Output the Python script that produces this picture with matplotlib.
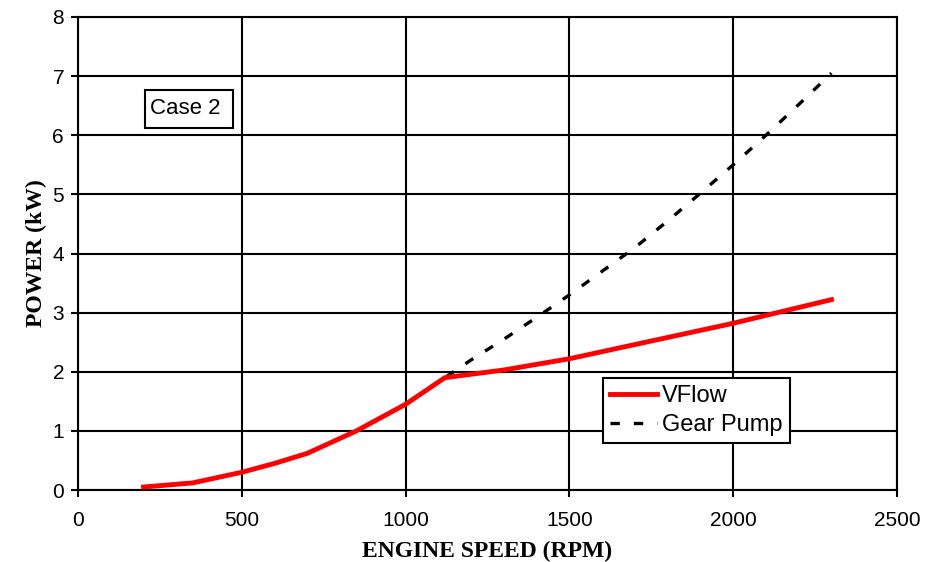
import matplotlib
matplotlib.use("Agg")
import matplotlib.pyplot as plt
from matplotlib.patches import Rectangle

vflow_rpm = [200, 350, 500, 600, 700, 850, 1000, 1120, 1300, 1500, 1750, 2000, 2300]
vflow_kw = [0.05, 0.12, 0.30, 0.45, 0.62, 1.00, 1.45, 1.90, 2.03, 2.22, 2.52, 2.82, 3.22]

gear_rpm = [200, 350, 500, 600, 700, 850, 1000, 1120, 1200, 1300, 1400, 1500, 1600, 1700,
            1800, 1900, 2000, 2100, 2200, 2300]
gear_kw = [0.05, 0.12, 0.30, 0.45, 0.62, 1.00, 1.45, 1.90, 2.20, 2.55, 2.92, 3.30, 3.70,
           4.10, 4.55, 5.02, 5.50, 6.00, 6.52, 7.05]

xticks = [0, 500, 1000, 1500, 2000, 2500]
yticks = [0, 1, 2, 3, 4, 5, 6, 7, 8]

fig = plt.figure(figsize=(9.37, 5.62), dpi=100)
ax = fig.add_axes([78/937, 1-490/562, (897-78)/937, (490-17)/562])

ax.plot(gear_rpm, gear_kw, color="black", lw=2.4, ls=(0, (2.8, 4.2)), label="Gear Pump", zorder=3)
ax.plot(vflow_rpm, vflow_kw, color="#ff0000", lw=3.5, label="VFlow", zorder=4)

ax.set_xlim(0, 2500)
ax.set_ylim(0, 8)
ax.set_xticks(xticks)
ax.set_yticks(yticks)
ax.grid(True, color="black", lw=1.5)
ax.set_axisbelow(True)
for s in ax.spines.values():
    s.set_linewidth(1.5)
ax.tick_params(direction="out", length=5, width=1.5, labelsize=15, pad=5)
ax.tick_params(axis="x", pad=10)
for lab in ax.get_xticklabels() + ax.get_yticklabels():
    lab.set_fontfamily("Liberation Sans")

ax.set_xlabel("ENGINE SPEED (RPM)", fontfamily="Liberation Serif", fontweight="bold",
              fontsize=17, labelpad=8)
ax.set_ylabel("POWER (kW)", fontfamily="Liberation Serif", fontweight="bold",
              fontsize=17, labelpad=4)

ax.add_patch(Rectangle((0.0818, 0.765), 0.1075, 0.081, transform=ax.transAxes,
                       fc="white", ec="black", lw=1.5, zorder=5))
ax.text(0.0879, 0.8055, "Case 2", transform=ax.transAxes, fontfamily="Liberation Sans",
        fontsize=16, va="center", ha="left", zorder=6)

h, l = ax.get_legend_handles_labels()
leg = ax.legend([h[1], h[0]], [l[1], l[0]], loc="upper left",
                bbox_to_anchor=((603-78)/819, 1-(378-17)/473),
                frameon=True, fancybox=False, edgecolor="black", framealpha=1,
                prop={"family": "Liberation Sans", "size": 17}, handlelength=2.0,
                borderpad=0.3, labelspacing=0.3, handletextpad=0.2, borderaxespad=0)
leg.get_frame().set_linewidth(1.5)

fig.savefig("out.png", dpi=100)
